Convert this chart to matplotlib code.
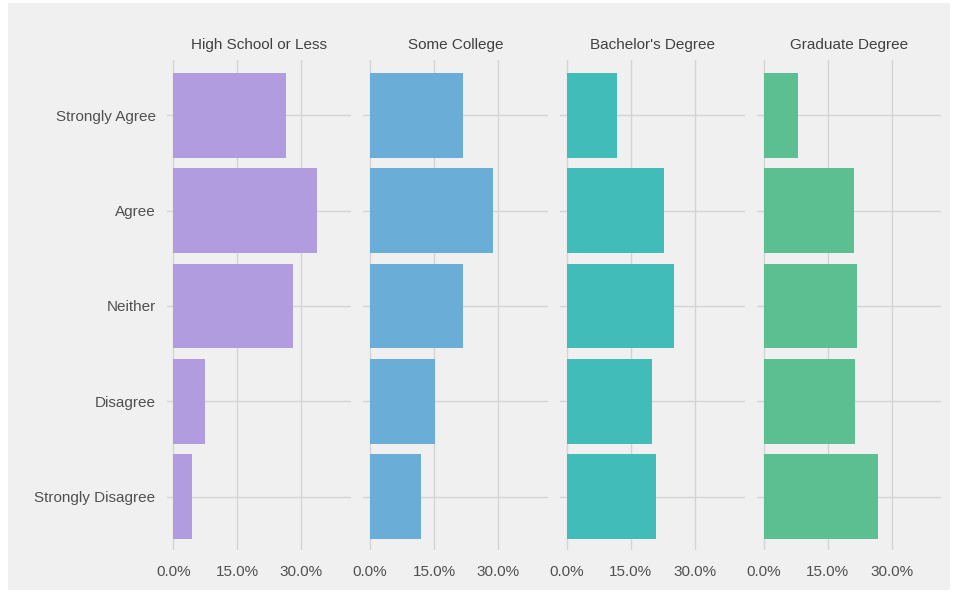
import matplotlib
matplotlib.use("Agg")
import matplotlib.pyplot as plt
from matplotlib.patches import Rectangle
from matplotlib.ticker import FuncFormatter

categories = ["Strongly Agree", "Agree", "Neither", "Disagree", "Strongly Disagree"]
groups = ["High School or Less", "Some College", "Bachelor's Degree", "Graduate Degree"]
high_school = [26.3, 33.8, 28.1, 7.5, 4.4]
some_college = [21.7, 28.8, 21.8, 15.3, 12.0]
bachelors = [11.7, 22.7, 25.1, 19.9, 20.9]
graduate = [8.1, 21.3, 22.0, 21.4, 26.8]
series = [high_school, some_college, bachelors, graduate]
colors = ["#b19ce0", "#6aaed8", "#42bcb8", "#5bbf91"]
xticks = [0, 15, 30]

W, H = 954, 598
fig = plt.figure(figsize=(W / 100, H / 100), dpi=100, facecolor="white")
fig.patches.append(Rectangle((8 / W, 1 - 590 / H), (950 - 8) / W, (590 - 3) / H,
                             transform=fig.transFigure, facecolor="#f0f0f0",
                             edgecolor="none", zorder=-10))
plt.rcParams["font.family"] = ["Liberation Sans", "DejaVu Sans"]

lefts = [166.7, 363.5, 560.3, 757.0]
pw = 184.5
top, bottom = 60, 550
for i, (vals, col, name) in enumerate(zip(series, colors, groups)):
    ax = fig.add_axes([lefts[i] / W, 1 - bottom / H, pw / W, (bottom - top) / H])
    ax.set_facecolor("#f0f0f0")
    ax.patch.set_alpha(0)
    ypos = list(range(len(categories)))
    ax.barh(ypos, vals, height=0.89, color=col, zorder=3)
    ax.set_xlim(-1.55, 41.7)
    ax.set_ylim(4.56, -0.58)
    ax.set_xticks(xticks)
    ax.xaxis.set_major_formatter(FuncFormatter(lambda v, p: f"{v:.1f}%"))
    ax.set_yticks(ypos)
    if i == 0:
        ax.set_yticklabels(categories)
    else:
        ax.set_yticklabels([])
    ax.grid(True, color="#d4d4d4", linewidth=1.0, zorder=0)
    for s in ax.spines.values():
        s.set_visible(False)
    ax.tick_params(length=0, labelsize=11, colors="#505050")
    ax.tick_params(axis="x", pad=11)
    ax.tick_params(axis="y", pad=8)
    ax.set_title(name, fontsize=11, color="#404040", pad=8)

fig.savefig("out.png", dpi=100, facecolor=fig.get_facecolor())
